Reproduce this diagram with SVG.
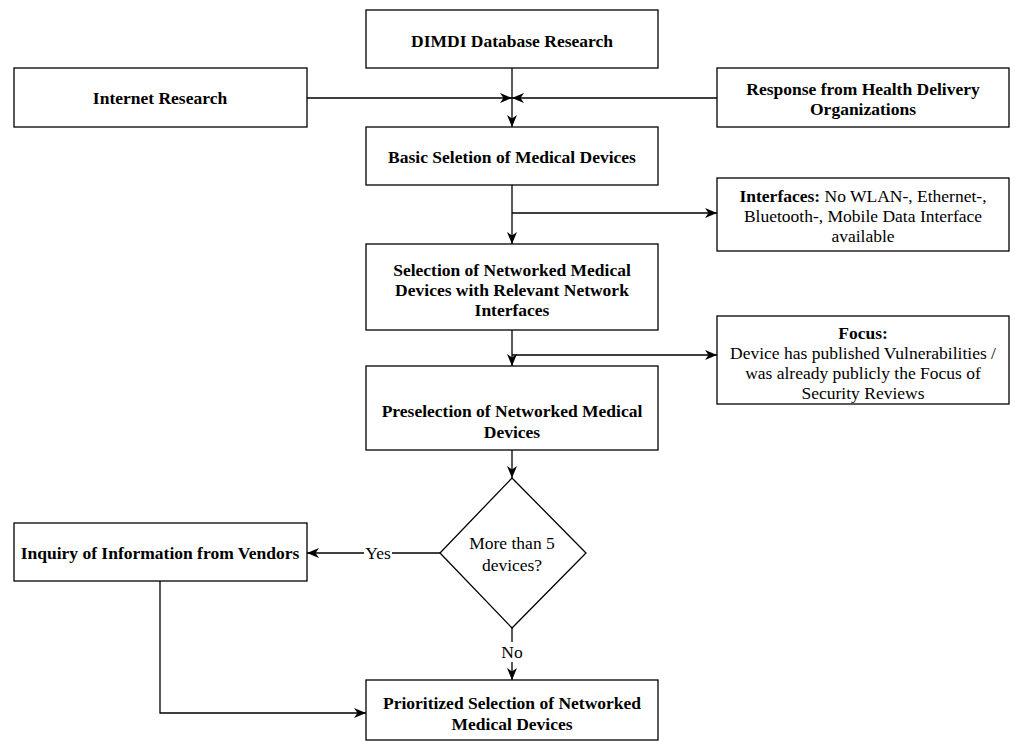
<svg xmlns="http://www.w3.org/2000/svg" width="1024" height="753" viewBox="0 0 1024 753">
<defs>
<marker id="arr" viewBox="0 0 12 10" refX="12" refY="5" markerWidth="12" markerHeight="10" markerUnits="userSpaceOnUse" orient="auto">
<path d="M0,0 L12,5 L0,10 L3.5,5 z" fill="#000"/>
</marker>
<style>
.box{fill:#fff;stroke:#000;stroke-width:1.3}
.t{font-family:"Liberation Serif","Times New Roman",serif;font-size:17.5px;text-anchor:middle;fill:#000}
.b{font-weight:bold}
.e{fill:none;stroke:#000;stroke-width:1.3;marker-end:url(#arr)}
</style>
</defs>
<rect width="1024" height="753" fill="#fff"/>
<g id="connectors">
<path class="e" d="M512,68 L512,127"/>
<path class="e" d="M307,98 L512,98"/>
<path class="e" d="M717,98 L512,98"/>
<path class="e" d="M512,185 L512,244"/>
<path class="e" d="M512,213 L717,213"/>
<path class="e" d="M512,330 L512,366"/>
<path class="e" d="M512,355 L717,355"/>
<path class="e" d="M512,450 L512,478"/>
<path class="e" d="M440,553 L307,553"/>
<path class="e" d="M512,628 L512,680"/>
<path class="e" d="M160,581 L160,713 L366,713"/>
<rect x="364" y="543" width="28" height="20" fill="#fff"/>
<text class="t" x="378" y="559">Yes</text>
<rect x="499" y="642" width="26" height="20" fill="#fff"/>
<text class="t" x="512" y="658">No</text>
</g>
<g id="dimdi">
<rect class="box" x="366" y="10" width="292" height="58"/>
<text class="t b" x="512" y="47">DIMDI Database Research</text>
</g>
<g id="internet">
<rect class="box" x="14" y="68" width="293" height="59"/>
<text class="t b" x="160" y="104">Internet Research</text>
</g>
<g id="response">
<rect class="box" x="717" y="68" width="292" height="59"/>
<text class="t b" x="863" y="95">Response from Health Delivery</text>
<text class="t b" x="863" y="115">Organizations</text>
</g>
<g id="basic">
<rect class="box" x="366" y="127" width="292" height="58"/>
<text class="t b" x="512" y="163">Basic Seletion of Medical Devices</text>
</g>
<g id="interfaces">
<rect class="box" x="717" y="178" width="292" height="73"/>
<text class="t" x="863" y="202"><tspan class="b">Interfaces:</tspan> No WLAN-, Ethernet-,</text>
<text class="t" x="863" y="222">Bluetooth-, Mobile Data Interface</text>
<text class="t" x="863" y="242">available</text>
</g>
<g id="selection">
<rect class="box" x="366" y="244" width="292" height="86"/>
<text class="t b" x="512" y="276">Selection of Networked Medical</text>
<text class="t b" x="512" y="296">Devices with Relevant Network</text>
<text class="t b" x="512" y="316">Interfaces</text>
</g>
<g id="focus">
<rect class="box" x="717" y="316" width="292" height="88"/>
<text class="t b" x="863" y="339">Focus:</text>
<text class="t" x="863" y="359">Device has published Vulnerabilities /</text>
<text class="t" x="863" y="379">was already publicly the Focus of</text>
<text class="t" x="863" y="399">Security Reviews</text>
</g>
<g id="preselection">
<rect class="box" x="366" y="366" width="292" height="84"/>
<text class="t b" x="512" y="417">Preselection of Networked Medical</text>
<text class="t b" x="512" y="438">Devices</text>
</g>
<g id="decision">
<polygon class="box" points="512,478 586,553 512,628 440,553"/>
<text class="t" x="512" y="549">More than 5</text>
<text class="t" x="512" y="571">devices?</text>
</g>
<g id="inquiry">
<rect class="box" x="14" y="523" width="293" height="58"/>
<text class="t b" x="160" y="559">Inquiry of Information from Vendors</text>
</g>
<g id="prioritized">
<rect class="box" x="366" y="680" width="292" height="60"/>
<text class="t b" x="512" y="709">Prioritized Selection of Networked</text>
<text class="t b" x="512" y="730">Medical Devices</text>
</g>
</svg>
